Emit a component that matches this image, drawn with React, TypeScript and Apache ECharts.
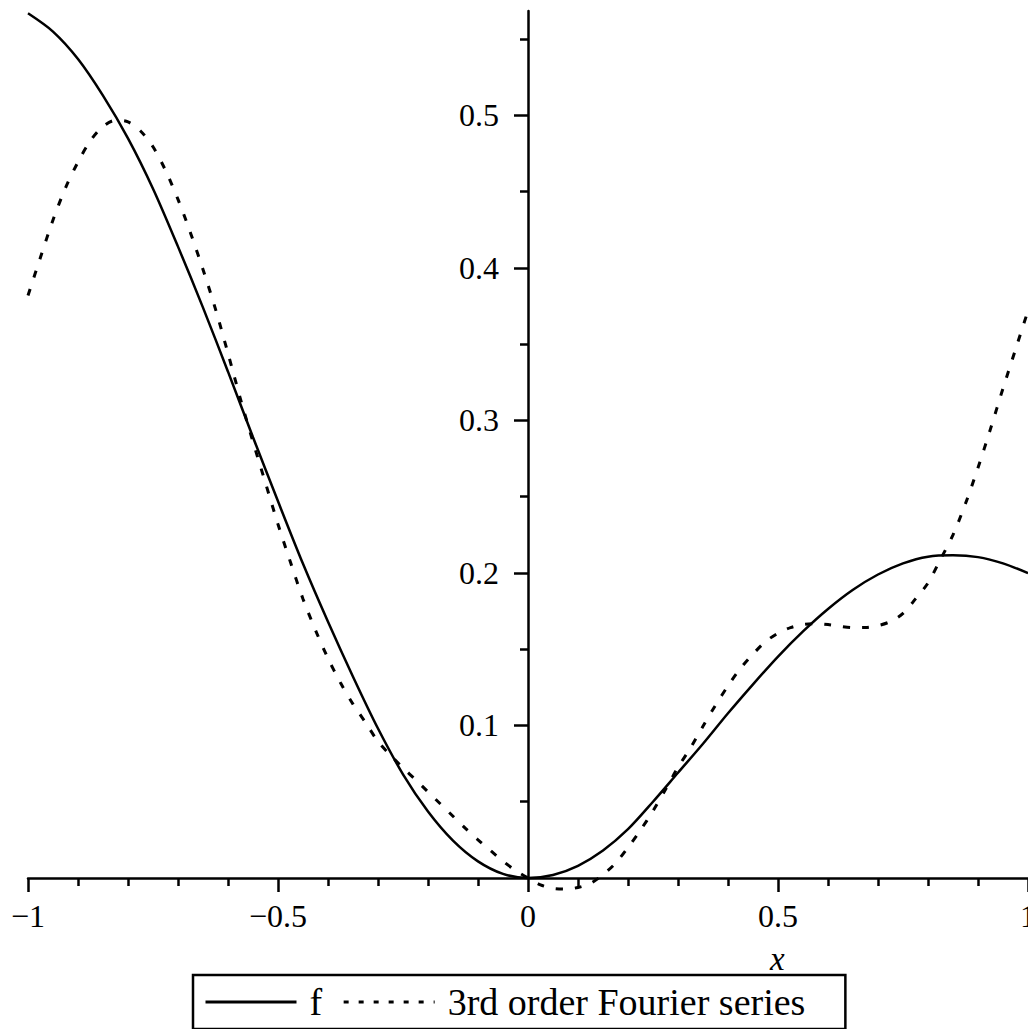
import React, { useEffect, useRef } from "react";
import * as echarts from "echarts";

// f(x)
const fX = [
  -1, -0.95, -0.9, -0.85, -0.8, -0.75, -0.7, -0.65, -0.6, -0.55, -0.5, -0.45, -0.4, -0.35, -0.3, -0.25, -0.2, -0.15, -0.1, -0.05,
  0, 0.05, 0.1, 0.15, 0.2, 0.25, 0.3, 0.35, 0.4, 0.45, 0.5, 0.55, 0.6, 0.65, 0.7, 0.75, 0.8, 0.85, 0.9, 0.95, 1,
];
const fY = [
  0.567, 0.555, 0.537, 0.513, 0.485, 0.452, 0.414, 0.374, 0.332, 0.289, 0.247, 0.206, 0.168, 0.132, 0.098, 0.068, 0.0436, 0.0245, 0.0109, 0.0027,
  0, 0.002, 0.008, 0.018, 0.032, 0.05, 0.069, 0.088, 0.108, 0.127, 0.1452, 0.1617, 0.1764, 0.189, 0.199, 0.2063, 0.2107, 0.2116, 0.2104, 0.2063, 0.1999,
];

// 3rd order Fourier series
const fourierX = [
  -1, -0.975, -0.95, -0.925, -0.9, -0.875, -0.85, -0.825, -0.8, -0.775, -0.75, -0.725, -0.7, -0.675, -0.65, -0.625, -0.6, -0.575,
  -0.55, -0.525, -0.5, -0.475, -0.45, -0.425, -0.4, -0.375, -0.35, -0.325, -0.3, -0.275, -0.25, -0.225, -0.2, -0.175, -0.15, -0.125,
  -0.1, -0.075, -0.05, -0.025, 0, 0.025, 0.05, 0.075, 0.1, 0.125, 0.15, 0.175, 0.2, 0.225, 0.25, 0.275, 0.3, 0.325, 0.35, 0.375,
  0.4, 0.425, 0.45, 0.475, 0.5, 0.525, 0.55, 0.575, 0.6, 0.625, 0.65, 0.675, 0.7, 0.725, 0.75, 0.775, 0.8, 0.825, 0.85, 0.875,
  0.9, 0.925, 0.95, 0.975, 1,
];
const fourierY = [
  0.382, 0.407, 0.4315, 0.4525, 0.4695, 0.4835, 0.4928, 0.4968, 0.4958, 0.4898, 0.4795, 0.464, 0.445, 0.423, 0.399, 0.373, 0.344, 0.314,
  0.286, 0.259, 0.232, 0.207, 0.183, 0.1625, 0.144, 0.128, 0.114, 0.102, 0.0895, 0.0805, 0.0722, 0.0645, 0.0565, 0.0485, 0.0405, 0.0325,
  0.025, 0.018, 0.011, 0.005, 0, -0.0045, -0.0068, -0.0073, -0.0062, -0.0035, 0.0022, 0.0097, 0.02, 0.0314, 0.044, 0.058, 0.0726, 0.0853, 0.0995, 0.1133,
  0.126, 0.1375, 0.1468, 0.155, 0.1605, 0.1642, 0.1662, 0.1668, 0.1662, 0.165, 0.1642, 0.1643, 0.1655, 0.1682, 0.1735, 0.183, 0.1935, 0.209, 0.225, 0.2455,
  0.269, 0.2945, 0.321, 0.3465, 0.372,
];

const yMajorTicks = [0.1, 0.2, 0.3, 0.4, 0.5];
const yMinorTicks = [0.05, 0.15, 0.25, 0.35, 0.45, 0.55];
const seriesNames = ["f", "3rd order Fourier series"];
const xAxisName = "x";

export default function App() {
  const ref = useRef<HTMLDivElement>(null);
  useEffect(() => {
    if (!ref.current) return;
    const chart = echarts.init(ref.current, null, { renderer: "svg" });
    const font = "Liberation Serif";
    const black = "#000";
    const axisW = 2.5;
    chart.setOption({
      animation: false,
      backgroundColor: "#fff",
      grid: { left: 28, right: 0, top: 11, bottom: 151, containLabel: false, outerBoundsMode: "none" },
      xAxis: {
        type: "value",
        min: -1,
        max: 1,
        interval: 0.5,
        axisLine: { onZero: true, lineStyle: { color: black, width: axisW } },
        axisTick: { length: 14, lineStyle: { color: black, width: axisW } },
        minorTick: { show: true, splitNumber: 5, length: 8, lineStyle: { color: black, width: axisW } },
        splitLine: { show: false },
        axisLabel: {
          color: black,
          fontFamily: font,
          fontSize: 32,
          margin: 22,
          formatter: (v: number) => (v < 0 ? "\u2212" + Math.abs(v) : String(v)),
        },
      },
      yAxis: [
        {
          type: "value",
          min: 0,
          max: 0.5685,
          interval: 0.1,
          position: "left",
          offset: -500,
          axisLine: { onZero: false, lineStyle: { color: black, width: axisW } },
          axisTick: { customValues: yMajorTicks, length: 14, lineStyle: { color: black, width: axisW } },
          axisLabel: {
            customValues: yMajorTicks,
            color: black,
            fontFamily: font,
            fontSize: 32,
            margin: 29,
          },
          splitLine: { show: false },
        },
        {
          type: "value",
          min: 0,
          max: 0.5685,
          position: "left",
          offset: -500,
          axisLine: { show: false, onZero: false },
          axisTick: { customValues: yMinorTicks, length: 8, lineStyle: { color: black, width: axisW } },
          axisLabel: { show: false },
          splitLine: { show: false },
        },
      ],
      legend: {
        left: 193,
        top: 975,
        padding: [8, 40, 8, 11],
        borderColor: black,
        borderWidth: 2.5,
        itemWidth: 91,
        itemHeight: 20,
        itemGap: 20,
        selectedMode: false,
        textStyle: { fontFamily: font, fontSize: 38, color: black, padding: [0, 0, 0, 8] },
        data: [
          {
            name: seriesNames[0],
            itemStyle: { opacity: 0 },
            lineStyle: { color: black, width: 3, type: "solid" },
          },
          {
            name: seriesNames[1],
            itemStyle: { opacity: 0 },
            lineStyle: { color: black, width: 3, type: [5, 10] },
          },
        ],
      },
      graphic: [
        {
          type: "text",
          left: 770,
          top: 942,
          style: { text: xAxisName, font: `italic 33px '${font}'`, fill: black },
        },
      ],
      series: [
        {
          name: seriesNames[0],
          type: "line",
          data: fX.map((x, i) => [x, fY[i]]),
          symbol: "none",
          smooth: 0.3,
          clip: false,
          color: black,
          lineStyle: { color: black, width: 2.5 },
        },
        {
          name: seriesNames[1],
          type: "line",
          yAxisIndex: 0,
          data: fourierX.map((x, i) => [x, fourierY[i]]),
          symbol: "none",
          smooth: 0.3,
          clip: false,
          color: black,
          lineStyle: { color: black, width: 3, type: [7, 12] },
        },
      ],
    });
    return () => chart.dispose();
  }, []);
  return (
    <div
      ref={ref}
      style={{ position: "absolute", left: 0, top: 0, width: 1028, height: 1029 }}
    />
  );
}
